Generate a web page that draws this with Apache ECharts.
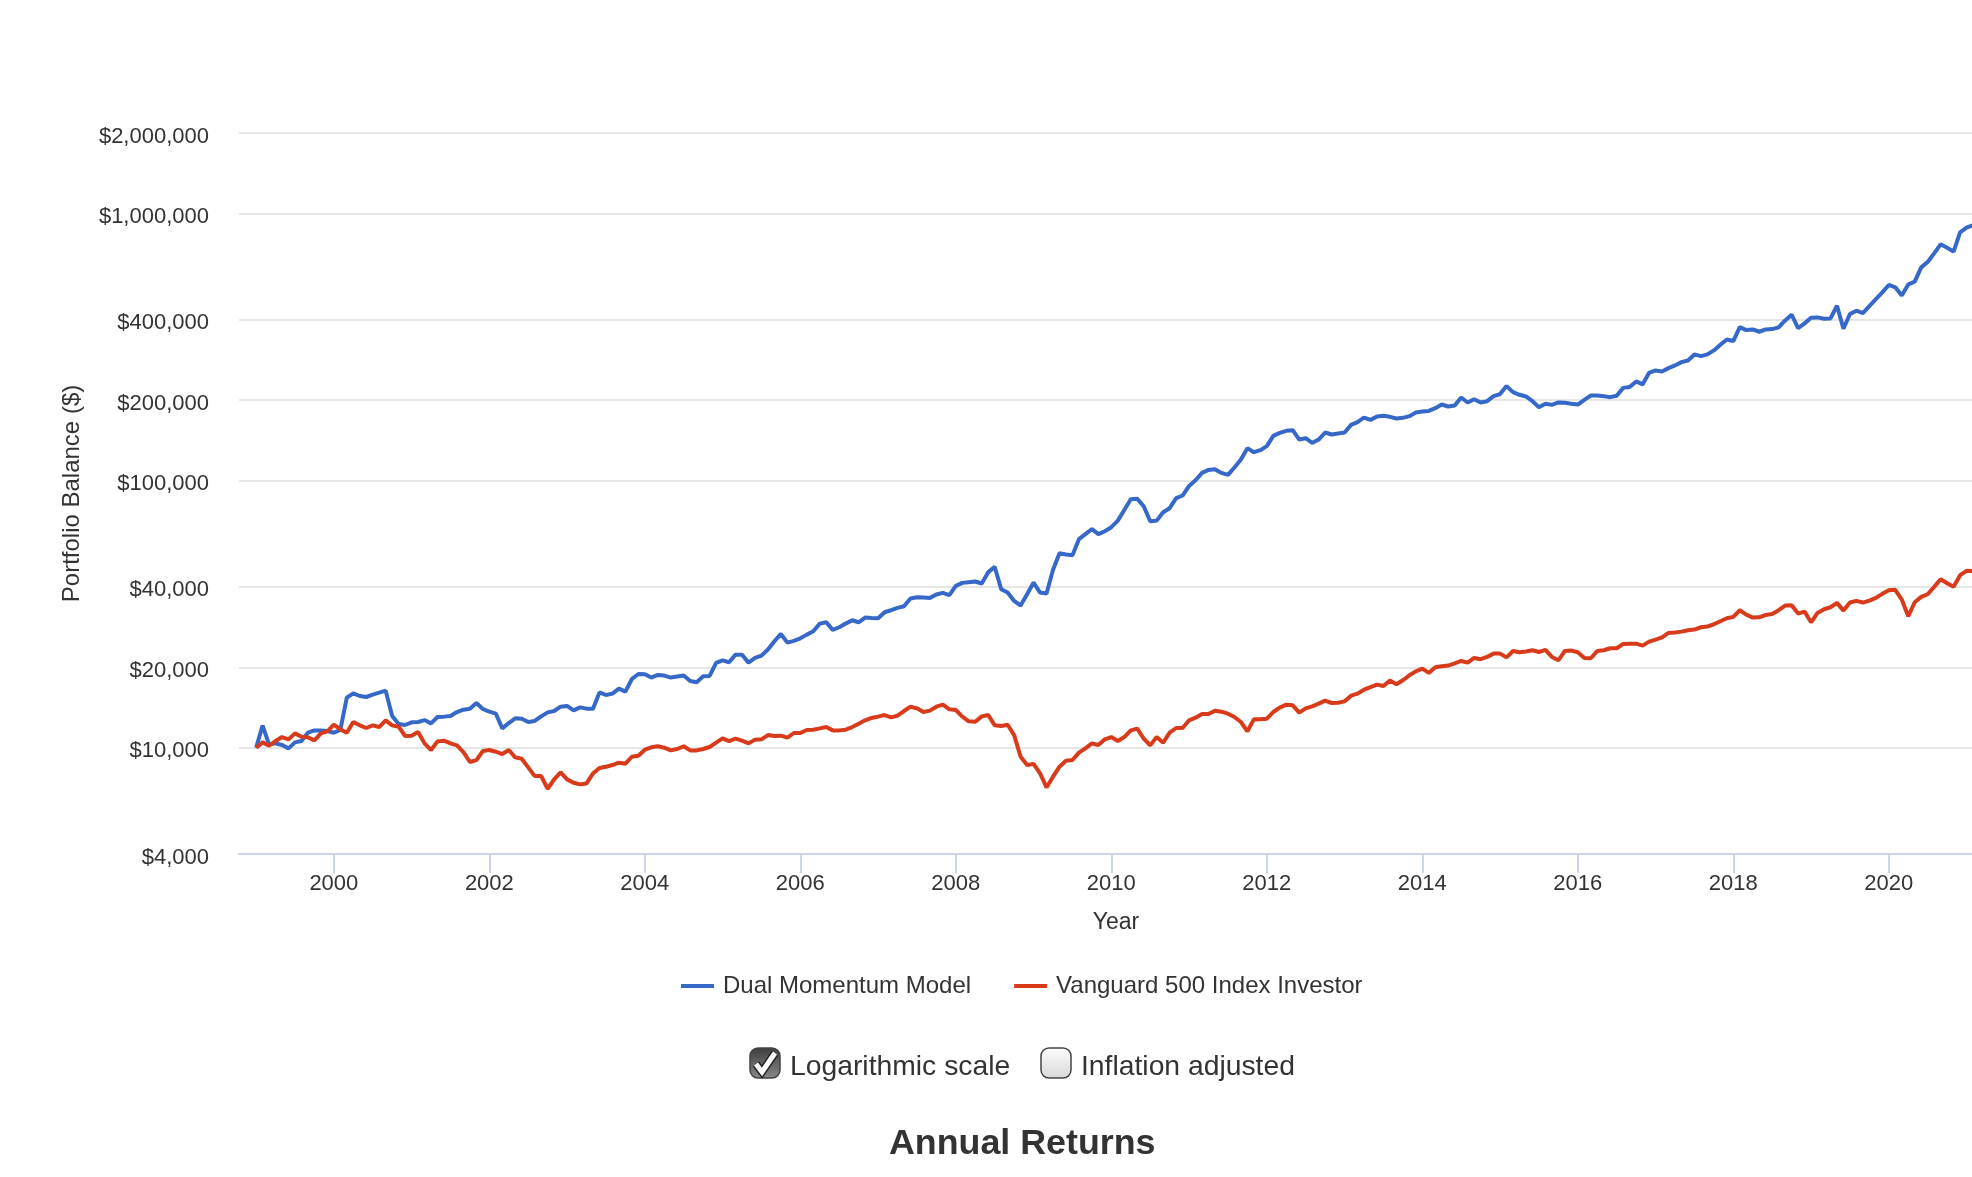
<!DOCTYPE html>
<html>
<head>
<meta charset="utf-8">
<title>Portfolio Balance</title>
<script src="https://cdn.jsdelivr.net/npm/echarts@6/dist/echarts.min.js"></script>
<style>
html, body { margin: 0; padding: 0; background: #fff; }
#chart { width: 1972px; height: 1177px; }
</style>
</head>
<body>
<div id="chart"></div>
<script>
// monthly balances, first point Jan 1999
const firstYear = 1999;
const dualMomentum = [
    10000, 12090, 10290, 10380, 10230, 9940, 10470, 10590, 11380, 11610, 11610, 11550,
    11380, 11650, 15390, 15980, 15610, 15480, 15800, 16070, 16350, 13140, 12260, 12160,
    12440, 12480, 12690, 12330, 13030, 13070, 13140, 13600, 13880, 14000, 14700, 13960,
    13640, 13410, 11810, 12370, 12880, 12840, 12480, 12590, 13100, 13560, 13720, 14240,
    14330, 13800, 14160, 14000, 14000, 16110, 15750, 15940, 16640, 16210, 18080, 18880,
    18830, 18300, 18720, 18620, 18300, 18460, 18620, 17780, 17580, 18500, 18560, 20760,
    21240, 20880, 22300, 22300, 20820, 21680, 22120, 23300, 25020, 26660, 24740, 25100,
    25680, 26500, 27280, 29140, 29480, 27600, 28240, 29140, 30000, 29480, 30700, 30600,
    30520, 32140, 32700, 33360, 33840, 36160, 36580, 36480, 36370, 37440, 38000, 37240,
    40350, 41400, 41640, 41880, 41170, 45400, 47530, 39200, 38080, 35440, 34040, 37560,
    41520, 38080, 37760, 46320, 53480, 52880, 52560, 60320, 63000, 65800, 63000, 64600,
    66900, 70800, 77600, 85100, 85400, 80100, 70400, 70800, 76100, 78800, 85900, 87900,
    95500, 100300, 106800, 109600, 110300, 106800, 105000, 111900, 119900, 132200, 127700, 129900,
    134500, 147000, 150800, 153500, 154400, 142400, 144100, 138400, 142400, 151300, 148700, 150000,
    151300, 161600, 165400, 172200, 168700, 173700, 174700, 173200, 170700, 171700, 174200, 179800,
    181300, 182300, 186600, 192600, 189300, 190900, 204600, 195900, 201700, 195900, 198200, 207000,
    210700, 225700, 214300, 209400, 206400, 198200, 188000, 193800, 192000, 196000, 195400, 193800,
    192600, 200600, 208200, 208200, 207000, 205200, 207600, 222300, 223800, 235000, 229000, 253200,
    258400, 256000, 263600, 269800, 277600, 281600, 296600, 292400, 296600, 307000, 322200, 337400,
    332800, 375400, 365800, 368000, 360600, 368000, 369000, 374400, 397600, 417600, 372400, 387600,
    406900, 408100, 403500, 404600, 451200, 370000, 420000, 432400, 423600, 450000, 478000, 506400,
    539600, 528800, 493200, 542400, 555200, 628000, 658000, 708800, 766000, 744000, 719200, 849600,
    884800, 904000
];
const vanguard500 = [
    10000, 10470, 10170, 10590, 10960, 10745, 11315, 10995, 10930, 10650, 11315, 11510,
    12190, 11710, 11380, 12480, 12125, 11850, 12125, 11950, 12660, 12125, 11985, 11060,
    11090, 11445, 10380, 9800, 10560, 10620, 10380, 10200, 9630, 8840, 8990, 9720,
    9800, 9660, 9470, 9800, 9200, 9095, 8440, 7830, 7830, 7020, 7610, 8085,
    7610, 7390, 7290, 7350, 8010, 8390, 8490, 8610, 8790, 8710, 9250, 9330,
    9830, 10030, 10120, 10000, 9770, 9890, 10120, 9770, 9770, 9890, 10060, 10440,
    10840, 10590, 10810, 10620, 10380, 10720, 10745, 11150, 11060, 11090, 10900, 11350,
    11350, 11650, 11680, 11810, 11950, 11610, 11610, 11680, 11950, 12300, 12660, 12920,
    13070, 13250, 12990, 13180, 13720, 14240, 14040, 13600, 13760, 14240, 14490, 13920,
    13840, 13070, 12550, 12510, 13100, 13250, 12125, 12055, 12190, 11150, 9250, 8610,
    8690, 8010, 7100, 7790, 8490, 8940, 8990, 9580, 9940, 10380, 10230, 10745,
    10960, 10590, 10960, 11610, 11780, 10810, 10200, 10960, 10440, 11380, 11850, 11850,
    12660, 12950, 13370, 13370, 13760, 13640, 13410, 13030, 12480, 11510, 12770, 12770,
    12840, 13600, 14120, 14490, 14410, 13530, 14040, 14280, 14620, 15000, 14700, 14740,
    14910, 15660, 15940, 16490, 16870, 17220, 17020, 17830, 17270, 17880, 18660, 19300,
    19760, 19050, 20000, 20170, 20290, 20700, 21120, 20820, 21680, 21440, 21880, 22500,
    22500, 21780, 23020, 22760, 22900, 23160, 22820, 23220, 21860, 21240, 23020, 23090,
    22760, 21680, 21620, 23020, 23160, 23560, 23560, 24460, 24520, 24520, 24100, 24960,
    25380, 25900, 26900, 26980, 27200, 27520, 27680, 28240, 28400, 28980, 29740, 30520,
    30880, 32700, 31500, 30700, 30780, 31400, 31680, 32700, 34040, 34140, 31780, 32320,
    29480, 31960, 32980, 33560, 34840, 32600, 34940, 35440, 34940, 35540, 36360, 37660,
    38860, 38980, 35860, 31060, 35040, 36680, 37540, 40000, 42720, 41280, 40000, 44240,
    45920, 45800
];
const yearTicks = [2000, 2002, 2004, 2006, 2008, 2010, 2012, 2014, 2016, 2018, 2020];
const balanceTicks = [4000, 10000, 20000, 40000, 100000, 200000, 400000, 1000000, 2000000];
const seriesNames = ["Dual Momentum Model", "Vanguard 500 Index Investor"];

function withDates(values) {
    return values.map((v, i) => [firstYear + i / 12, v]);
}

const textColor = "#333";
const fontFamily = "'Liberation Sans', Arial, sans-serif";

// the two checkboxes under the legend
function checkbox(x, y, checked) {
    let fill = checked
        ? new echarts.graphic.LinearGradient(0, 0, 0, 1, [{offset: 0, color: "#3c3c3c"}, {offset: 1, color: "#8a8a8a"}])
        : new echarts.graphic.LinearGradient(0, 0, 0, 1, [{offset: 0, color: "#fdfdfd"}, {offset: 1, color: "#d8d8d8"}]);
    let items = [{
        type: "rect",
        shape: {x: x, y: y, width: 30, height: 30, r: 8},
        style: {fill: fill, stroke: "#444", lineWidth: 1.5}
    }];
    if(checked) {
        let pts = [[x + 6, y + 16], [x + 12, y + 24], [x + 25, y + 5]];
        items.push({
            type: "polyline",
            shape: {points: pts},
            style: {stroke: "#222", lineWidth: 8, fill: "none"}
        }, {
            type: "polyline",
            shape: {points: pts},
            style: {stroke: "#fff", lineWidth: 5, fill: "none"}
        });
    }
    return items;
}

function caption(text, x, y) {
    return {
        type: "text",
        style: {x: x, y: y, text: text, fill: textColor, font: "28.3px " + fontFamily, textVerticalAlign: "middle"}
    };
}

let chart = echarts.init(document.getElementById("chart"));
chart.setOption({
    animation: false,
    backgroundColor: "#fff",
    color: ["#3568c8", "#d93a1a"],
    title: {
        text: "Annual Returns",
        left: 889,
        top: 1126,
        padding: 0,
        textStyle: {color: textColor, fontSize: 35.8, fontWeight: "bold", fontFamily: fontFamily}
    },
    legend: {
        left: 681,
        top: 974,
        padding: 0,
        itemWidth: 33,
        itemHeight: 4,
        itemGap: 43,
        icon: "rect",
        data: seriesNames,
        textStyle: {color: textColor, fontSize: 24, fontFamily: fontFamily, padding: [0, 0, 0, 4]}
    },
    grid: {
        left: 239,
        right: 0,
        top: 133,
        height: 721
    },
    xAxis: {
        type: "value",
        min: 1998.78,
        max: 2021.07,
        name: "Year",
        nameLocation: "middle",
        nameGap: 57,
        nameTextStyle: {color: textColor, fontSize: 23, fontFamily: fontFamily, padding: [0, 0, 0, 21]},
        axisLine: {lineStyle: {color: "#ccd6eb", width: 2}},
        axisTick: {length: 19, customValues: yearTicks, lineStyle: {color: "#ccd6eb", width: 2}},
        axisLabel: {
            customValues: yearTicks,
            margin: 19,
            color: textColor,
            fontSize: 22,
            fontFamily: fontFamily,
            formatter: (v) => String(v)
        },
        splitLine: {show: false}
    },
    yAxis: {
        type: "log",
        logBase: 10,
        min: 4000,
        max: 2000000,
        name: "Portfolio Balance ($)",
        nameLocation: "middle",
        nameGap: 155,
        nameTextStyle: {color: textColor, fontSize: 24, fontFamily: fontFamily},
        axisLine: {show: false},
        axisTick: {show: false, customValues: balanceTicks},
        axisLabel: {
            customValues: balanceTicks,
            margin: 30,
            verticalAlign: "top",
            lineHeight: 7,
            color: textColor,
            fontSize: 22,
            fontFamily: fontFamily,
            formatter: (v) => "$" + Math.round(v).toLocaleString("en-US")
        },
        splitLine: {show: true, customValues: balanceTicks, lineStyle: {color: "#e6e6e6", width: 2}},
        minorSplitLine: {show: false}
    },
    graphic: {
        elements: [
            ...checkbox(750, 1048, true),
            caption("Logarithmic scale", 790, 1067),
            ...checkbox(1041, 1048, false),
            caption("Inflation adjusted", 1081, 1067)
        ]
    },
    series: [
        {
            name: seriesNames[0],
            type: "line",
            showSymbol: false,
            data: withDates(dualMomentum),
            lineStyle: {width: 4}
        },
        {
            name: seriesNames[1],
            type: "line",
            showSymbol: false,
            data: withDates(vanguard500),
            lineStyle: {width: 4}
        }
    ]
});
</script>
</body>
</html>
